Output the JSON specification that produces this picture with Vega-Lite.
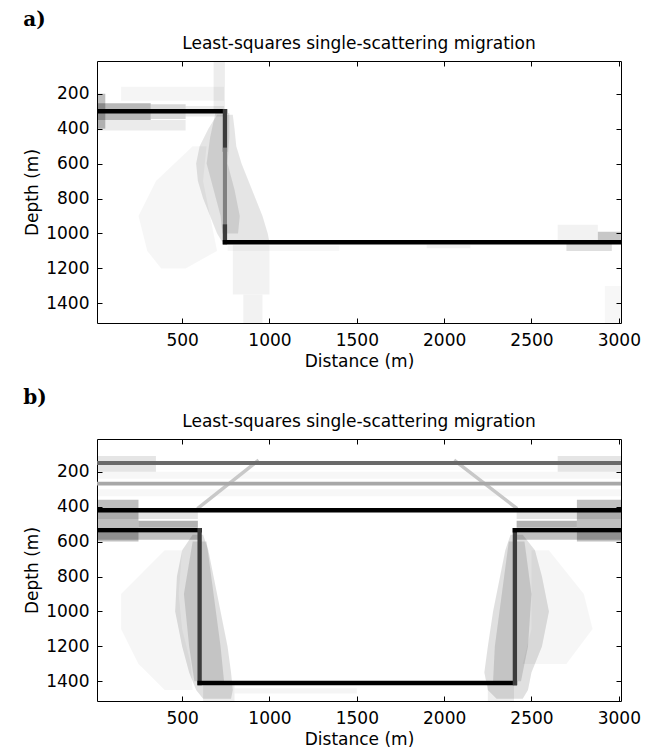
{
  "$schema": "https://vega.github.io/schema/vega-lite/v6.json",
  "padding": {"left": 23, "top": 10, "right": 5, "bottom": 5},
  "background": "white",
  "spacing": 18,
  "config": {
    "font": "DejaVu Sans",
    "view": {"stroke": "black", "strokeWidth": 1},
    "axis": {"labelFont": "DejaVu Sans", "labelFontSize": 17, "labelColor": "black", "titleFont": "DejaVu Sans", "titleFontSize": 17, "titleFontWeight": "normal", "titleColor": "black", "tickColor": "black", "tickSize": 5, "offset": -5, "labelPadding": 8, "titlePadding": 4, "domain": false, "grid": false, "labelFlush": false, "labelOverlap": false, "format": "d"},
    "axisBottom": {"labelPadding": 9, "titlePadding": 5},
    "title": {"font": "DejaVu Sans", "fontSize": 17, "fontWeight": "normal", "color": "black", "offset": 8}
  },
  "datasets": {
    "cells": [
      {"p": "a", "x1": 12.5, "x2": 60, "d1": 200, "d2": 400, "v": 0.25},
      {"p": "a", "x1": 12.5, "x2": 320, "d1": 255, "d2": 350, "v": 0.28},
      {"p": "a", "x1": 320, "x2": 520, "d1": 260, "d2": 345, "v": 0.15},
      {"p": "a", "x1": 520, "x2": 740, "d1": 270, "d2": 330, "v": 0.08},
      {"p": "a", "x1": 12.5, "x2": 520, "d1": 350, "d2": 410, "v": 0.08},
      {"p": "a", "x1": 150, "x2": 740, "d1": 160, "d2": 240, "v": 0.04},
      {"p": "a", "x1": 680, "x2": 745, "d1": 12.5, "d2": 290, "v": 0.07},
      {"p": "a", "x1": 790, "x2": 1000, "d1": 1065, "d2": 1350, "v": 0.05},
      {"p": "a", "x1": 850, "x2": 960, "d1": 1350, "d2": 1512.5, "v": 0.05},
      {"p": "a", "x1": 2700, "x2": 2960, "d1": 1060, "d2": 1100, "v": 0.13},
      {"p": "a", "x1": 2880, "x2": 3012.5, "d1": 990, "d2": 1060, "v": 0.22},
      {"p": "a", "x1": 2650, "x2": 2880, "d1": 950, "d2": 1040, "v": 0.05},
      {"p": "a", "x1": 760, "x2": 1400, "d1": 1070, "d2": 1100, "v": 0.03},
      {"p": "a", "x1": 1900, "x2": 2150, "d1": 1065, "d2": 1085, "v": 0.05},
      {"p": "a", "x1": 2920, "x2": 3012.5, "d1": 1300, "d2": 1512.5, "v": 0.03},
      {"p": "b", "x1": 12.5, "x2": 350, "d1": 110, "d2": 200, "v": 0.1},
      {"p": "b", "x1": 2650, "x2": 3012.5, "d1": 110, "d2": 200, "v": 0.1},
      {"p": "b", "x1": 12.5, "x2": 250, "d1": 360, "d2": 600, "v": 0.25},
      {"p": "b", "x1": 2760, "x2": 3012.5, "d1": 360, "d2": 600, "v": 0.25},
      {"p": "b", "x1": 250, "x2": 590, "d1": 480, "d2": 520, "v": 0.3},
      {"p": "b", "x1": 2415, "x2": 2760, "d1": 480, "d2": 520, "v": 0.3},
      {"p": "b", "x1": 12.5, "x2": 590, "d1": 430, "d2": 470, "v": 0.1},
      {"p": "b", "x1": 2415, "x2": 3012.5, "d1": 430, "d2": 470, "v": 0.1},
      {"p": "b", "x1": 12.5, "x2": 600, "d1": 550, "d2": 590, "v": 0.25},
      {"p": "b", "x1": 2405, "x2": 3012.5, "d1": 550, "d2": 590, "v": 0.25},
      {"p": "b", "x1": 620, "x2": 800, "d1": 1420, "d2": 1512.5, "v": 0.07},
      {"p": "b", "x1": 2250, "x2": 2400, "d1": 1420, "d2": 1512.5, "v": 0.07},
      {"p": "b", "x1": 800, "x2": 1500, "d1": 1440, "d2": 1470, "v": 0.04},
      {"p": "b", "x1": 12.5, "x2": 3012.5, "d1": 200, "d2": 240, "v": 0.03},
      {"p": "b", "x1": 12.5, "x2": 3012.5, "d1": 300, "d2": 340, "v": 0.03}
    ],
    "bands": [
      {"p": "a", "b": "a1", "v": 0.1, "d": 320, "lo": 700, "hi": 790},
      {"p": "a", "b": "a1", "v": 0.1, "d": 400, "lo": 650, "hi": 800},
      {"p": "a", "b": "a1", "v": 0.1, "d": 500, "lo": 600, "hi": 810},
      {"p": "a", "b": "a1", "v": 0.1, "d": 600, "lo": 580, "hi": 840},
      {"p": "a", "b": "a1", "v": 0.1, "d": 700, "lo": 590, "hi": 880},
      {"p": "a", "b": "a1", "v": 0.1, "d": 800, "lo": 620, "hi": 920},
      {"p": "a", "b": "a1", "v": 0.1, "d": 900, "lo": 660, "hi": 960},
      {"p": "a", "b": "a1", "v": 0.1, "d": 1000, "lo": 700, "hi": 990},
      {"p": "a", "b": "a1", "v": 0.1, "d": 1050, "lo": 730, "hi": 1000},
      {"p": "a", "b": "a2", "v": 0.1, "d": 310, "lo": 690, "hi": 770},
      {"p": "a", "b": "a2", "v": 0.1, "d": 450, "lo": 660, "hi": 770},
      {"p": "a", "b": "a2", "v": 0.1, "d": 600, "lo": 640, "hi": 760},
      {"p": "a", "b": "a2", "v": 0.1, "d": 750, "lo": 680, "hi": 800},
      {"p": "a", "b": "a2", "v": 0.1, "d": 900, "lo": 720, "hi": 830},
      {"p": "a", "b": "a2", "v": 0.1, "d": 1000, "lo": 730, "hi": 820},
      {"p": "a", "b": "a3", "v": 0.035, "d": 500, "lo": 560, "hi": 640},
      {"p": "a", "b": "a3", "v": 0.035, "d": 700, "lo": 350, "hi": 620},
      {"p": "a", "b": "a3", "v": 0.035, "d": 900, "lo": 250, "hi": 660},
      {"p": "a", "b": "a3", "v": 0.035, "d": 1100, "lo": 300, "hi": 700},
      {"p": "a", "b": "a3", "v": 0.035, "d": 1200, "lo": 380, "hi": 520},
      {"p": "b", "b": "b1", "v": 0.12, "d": 560, "lo": 560, "hi": 620},
      {"p": "b", "b": "b1", "v": 0.12, "d": 650, "lo": 500, "hi": 650},
      {"p": "b", "b": "b1", "v": 0.12, "d": 800, "lo": 470, "hi": 680},
      {"p": "b", "b": "b1", "v": 0.12, "d": 1000, "lo": 460, "hi": 720},
      {"p": "b", "b": "b1", "v": 0.12, "d": 1200, "lo": 500, "hi": 760},
      {"p": "b", "b": "b1", "v": 0.12, "d": 1350, "lo": 540, "hi": 780},
      {"p": "b", "b": "b1", "v": 0.12, "d": 1450, "lo": 580, "hi": 790},
      {"p": "b", "b": "b1", "v": 0.12, "d": 1500, "lo": 620, "hi": 780},
      {"p": "b", "b": "b2", "v": 0.12, "d": 600, "lo": 560, "hi": 640},
      {"p": "b", "b": "b2", "v": 0.12, "d": 900, "lo": 510, "hi": 680},
      {"p": "b", "b": "b2", "v": 0.12, "d": 1200, "lo": 540, "hi": 720},
      {"p": "b", "b": "b2", "v": 0.12, "d": 1400, "lo": 570, "hi": 740},
      {"p": "b", "b": "b3", "v": 0.035, "d": 650, "lo": 400, "hi": 500},
      {"p": "b", "b": "b3", "v": 0.035, "d": 900, "lo": 150, "hi": 480},
      {"p": "b", "b": "b3", "v": 0.035, "d": 1100, "lo": 150, "hi": 500},
      {"p": "b", "b": "b3", "v": 0.035, "d": 1300, "lo": 250, "hi": 550},
      {"p": "b", "b": "b3", "v": 0.035, "d": 1450, "lo": 400, "hi": 560},
      {"p": "b", "b": "b4", "v": 0.12, "d": 560, "lo": 2380, "hi": 2450},
      {"p": "b", "b": "b4", "v": 0.12, "d": 650, "lo": 2350, "hi": 2520},
      {"p": "b", "b": "b4", "v": 0.12, "d": 800, "lo": 2320, "hi": 2560},
      {"p": "b", "b": "b4", "v": 0.12, "d": 1000, "lo": 2280, "hi": 2600},
      {"p": "b", "b": "b4", "v": 0.12, "d": 1200, "lo": 2250, "hi": 2560},
      {"p": "b", "b": "b4", "v": 0.12, "d": 1350, "lo": 2230, "hi": 2500},
      {"p": "b", "b": "b4", "v": 0.12, "d": 1450, "lo": 2250, "hi": 2480},
      {"p": "b", "b": "b4", "v": 0.12, "d": 1500, "lo": 2300, "hi": 2450},
      {"p": "b", "b": "b5", "v": 0.12, "d": 600, "lo": 2370, "hi": 2460},
      {"p": "b", "b": "b5", "v": 0.12, "d": 900, "lo": 2330, "hi": 2500},
      {"p": "b", "b": "b5", "v": 0.12, "d": 1200, "lo": 2290, "hi": 2480},
      {"p": "b", "b": "b5", "v": 0.12, "d": 1400, "lo": 2280, "hi": 2440},
      {"p": "b", "b": "b6", "v": 0.035, "d": 650, "lo": 2500, "hi": 2600},
      {"p": "b", "b": "b6", "v": 0.035, "d": 900, "lo": 2500, "hi": 2800},
      {"p": "b", "b": "b6", "v": 0.035, "d": 1100, "lo": 2500, "hi": 2850},
      {"p": "b", "b": "b6", "v": 0.035, "d": 1300, "lo": 2450, "hi": 2700}
    ],
    "lines": [
      {"p": "b", "x1": 595, "x2": 930, "d1": 405, "d2": 140, "k": "faint"},
      {"p": "b", "x1": 2410, "x2": 2065, "d1": 405, "d2": 140, "k": "faint"},
      {"p": "a", "x1": 12.5, "x2": 745, "d1": 300, "d2": 300, "k": "strong"},
      {"p": "a", "x1": 745, "x2": 745, "d1": 300, "d2": 520, "k": "dip"},
      {"p": "a", "x1": 745, "x2": 745, "d1": 520, "d2": 960, "k": "dipgray"},
      {"p": "a", "x1": 745, "x2": 745, "d1": 960, "d2": 1050, "k": "dip"},
      {"p": "a", "x1": 745, "x2": 3012.5, "d1": 1050, "d2": 1050, "k": "strong"},
      {"p": "b", "x1": 12.5, "x2": 3012.5, "d1": 150, "d2": 150, "k": "mid"},
      {"p": "b", "x1": 12.5, "x2": 3012.5, "d1": 268, "d2": 268, "k": "light"},
      {"p": "b", "x1": 12.5, "x2": 3012.5, "d1": 420, "d2": 420, "k": "strong"},
      {"p": "b", "x1": 12.5, "x2": 600, "d1": 535, "d2": 535, "k": "strong"},
      {"p": "b", "x1": 600, "x2": 600, "d1": 535, "d2": 1410, "k": "dip"},
      {"p": "b", "x1": 600, "x2": 2405, "d1": 1410, "d2": 1410, "k": "strong"},
      {"p": "b", "x1": 2405, "x2": 2405, "d1": 535, "d2": 1410, "k": "dip"},
      {"p": "b", "x1": 2405, "x2": 3012.5, "d1": 535, "d2": 535, "k": "strong"}
    ]
  },
  "vconcat": [
    {
      "title": {"text": "a)", "anchor": "start", "font": "DejaVu Serif", "fontWeight": "bold", "fontSize": 20, "frame": "bounds", "offset": 4},
      "vconcat": [
        {
          "title": {"text": "Least-squares single-scattering migration"},
          "width": 524,
          "height": 262,
          "layer": [
            {
              "data": {"name": "cells"},
              "transform": [{"filter": "datum.p === 'a'"}],
              "mark": {"type": "rect", "color": "black", "clip": true},
              "encoding": {
                "x": {"field": "x1", "type": "quantitative", "scale": {"domain": [12.5, 3012.5], "nice": false, "zero": false}, "axis": {"orient": "bottom", "values": [500, 1000, 1500, 2000, 2500, 3000], "title": "Distance (m)"}},
                "x2": {"field": "x2"},
                "y": {"field": "d1", "type": "quantitative", "scale": {"domain": [12.5, 1512.5], "nice": false, "zero": false, "reverse": true}, "axis": {"orient": "left", "values": [200, 400, 600, 800, 1000, 1200, 1400], "title": "Depth (m)"}},
                "y2": {"field": "d2"},
                "opacity": {"field": "v", "type": "quantitative", "scale": {"domain": [0, 1], "range": [0, 1]}, "legend": null}
              }
            },
            {
              "data": {"name": "bands"},
              "transform": [{"filter": "datum.p === 'a'"}],
              "mark": {"type": "area", "orient": "horizontal", "color": "black", "clip": true},
              "encoding": {
                "y": {"field": "d", "type": "quantitative", "scale": {"domain": [12.5, 1512.5], "nice": false, "zero": false, "reverse": true}, "axis": {"orient": "right", "values": [200, 400, 600, 800, 1000, 1200, 1400], "labels": false, "title": null}},
                "x": {"field": "lo", "type": "quantitative", "stack": null, "scale": {"domain": [12.5, 3012.5], "nice": false, "zero": false}, "axis": {"orient": "top", "values": [500, 1000, 1500, 2000, 2500, 3000], "labels": false, "title": null}},
                "x2": {"field": "hi"},
                "detail": {"field": "b", "type": "nominal"},
                "opacity": {"field": "v", "type": "quantitative", "scale": {"domain": [0, 1], "range": [0, 1]}, "legend": null}
              }
            },
            {
              "data": {"name": "lines"},
              "transform": [{"filter": "datum.p === 'a'"}],
              "mark": {"type": "rule", "strokeCap": "square", "clip": true},
              "encoding": {
                "x": {"field": "x1", "type": "quantitative", "scale": {"domain": [12.5, 3012.5], "nice": false, "zero": false}, "axis": null},
                "x2": {"field": "x2"},
                "y": {"field": "d1", "type": "quantitative", "scale": {"domain": [12.5, 1512.5], "nice": false, "zero": false, "reverse": true}, "axis": null},
                "y2": {"field": "d2"},
                "color": {"field": "k", "type": "nominal", "scale": {"domain": ["strong", "dip", "dipgray", "mid", "light", "faint"], "range": ["#000000", "#3c3c3c", "#808080", "#6a6a6a", "#a8a8a8", "#c8c8c8"]}, "legend": null},
                "strokeWidth": {"field": "k", "type": "nominal", "scale": {"domain": ["strong", "dip", "dipgray", "mid", "light", "faint"], "range": [4.5, 3.5, 3.5, 3.5, 3, 2]}, "legend": null}
              }
            }
          ],
          "resolve": {"axis": {"x": "independent", "y": "independent"}}
        }
      ]
    },
    {
      "title": {"text": "b)", "anchor": "start", "font": "DejaVu Serif", "fontWeight": "bold", "fontSize": 20, "frame": "bounds", "offset": 4},
      "vconcat": [
        {
          "title": {"text": "Least-squares single-scattering migration"},
          "width": 524,
          "height": 262,
          "layer": [
            {
              "data": {"name": "cells"},
              "transform": [{"filter": "datum.p === 'b'"}],
              "mark": {"type": "rect", "color": "black", "clip": true},
              "encoding": {
                "x": {"field": "x1", "type": "quantitative", "scale": {"domain": [12.5, 3012.5], "nice": false, "zero": false}, "axis": {"orient": "bottom", "values": [500, 1000, 1500, 2000, 2500, 3000], "title": "Distance (m)"}},
                "x2": {"field": "x2"},
                "y": {"field": "d1", "type": "quantitative", "scale": {"domain": [12.5, 1512.5], "nice": false, "zero": false, "reverse": true}, "axis": {"orient": "left", "values": [200, 400, 600, 800, 1000, 1200, 1400], "title": "Depth (m)"}},
                "y2": {"field": "d2"},
                "opacity": {"field": "v", "type": "quantitative", "scale": {"domain": [0, 1], "range": [0, 1]}, "legend": null}
              }
            },
            {
              "data": {"name": "bands"},
              "transform": [{"filter": "datum.p === 'b'"}],
              "mark": {"type": "area", "orient": "horizontal", "color": "black", "clip": true},
              "encoding": {
                "y": {"field": "d", "type": "quantitative", "scale": {"domain": [12.5, 1512.5], "nice": false, "zero": false, "reverse": true}, "axis": {"orient": "right", "values": [200, 400, 600, 800, 1000, 1200, 1400], "labels": false, "title": null}},
                "x": {"field": "lo", "type": "quantitative", "stack": null, "scale": {"domain": [12.5, 3012.5], "nice": false, "zero": false}, "axis": {"orient": "top", "values": [500, 1000, 1500, 2000, 2500, 3000], "labels": false, "title": null}},
                "x2": {"field": "hi"},
                "detail": {"field": "b", "type": "nominal"},
                "opacity": {"field": "v", "type": "quantitative", "scale": {"domain": [0, 1], "range": [0, 1]}, "legend": null}
              }
            },
            {
              "data": {"name": "lines"},
              "transform": [{"filter": "datum.p === 'b'"}],
              "mark": {"type": "rule", "strokeCap": "square", "clip": true},
              "encoding": {
                "x": {"field": "x1", "type": "quantitative", "scale": {"domain": [12.5, 3012.5], "nice": false, "zero": false}, "axis": null},
                "x2": {"field": "x2"},
                "y": {"field": "d1", "type": "quantitative", "scale": {"domain": [12.5, 1512.5], "nice": false, "zero": false, "reverse": true}, "axis": null},
                "y2": {"field": "d2"},
                "color": {"field": "k", "type": "nominal", "scale": {"domain": ["strong", "dip", "dipgray", "mid", "light", "faint"], "range": ["#000000", "#3c3c3c", "#808080", "#6a6a6a", "#a8a8a8", "#c8c8c8"]}, "legend": null},
                "strokeWidth": {"field": "k", "type": "nominal", "scale": {"domain": ["strong", "dip", "dipgray", "mid", "light", "faint"], "range": [4.5, 3.5, 3.5, 3.5, 3, 2]}, "legend": null}
              }
            }
          ],
          "resolve": {"axis": {"x": "independent", "y": "independent"}}
        }
      ]
    }
  ]
}
